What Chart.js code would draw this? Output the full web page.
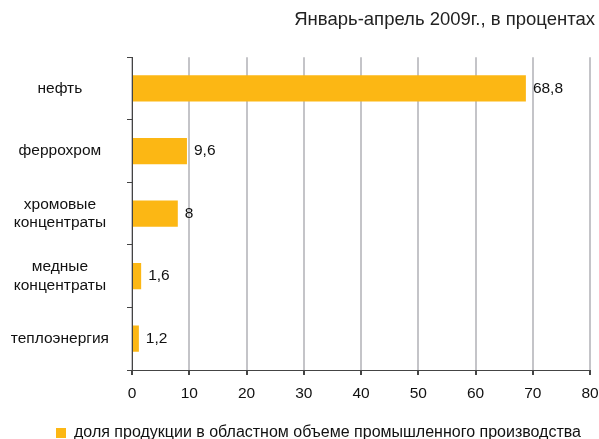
<!DOCTYPE html>
<html>
<head>
<meta charset="utf-8">
<script src="https://cdn.jsdelivr.net/npm/chart.js@4.4.1/dist/chart.umd.min.js"></script>
<style>
  html, body { margin: 0; padding: 0; background: #fff; }
  #wrap { width: 599px; height: 439px; }
</style>
</head>
<body>
<div id="wrap"><canvas id="share-chart" width="599" height="439"></canvas></div>
<script>
// данные
const categories = ['нефть', 'феррохром', ['хромовые', 'концентраты'], ['медные', 'концентраты'], 'теплоэнергия'];
const shares = [68.8, 9.6, 8, 1.6, 1.2];
const xTicks = [0, 10, 20, 30, 40, 50, 60, 70, 80];
const seriesName = 'доля продукции в областном объеме промышленного производства';
const titleText = 'Январь-апрель 2009г., в процентах';

const barColor = '#FCB714';
const font = 'Liberation Sans, Arial, sans-serif';

// value labels to the right of the bars
const valueLabels = {
    id: 'valueLabels',
    afterDatasetsDraw(chart) {
        const c = chart.ctx;
        const meta = chart.getDatasetMeta(0);
        c.save();
        c.font = '15.5px ' + font;
        c.fillStyle = '#111';
        c.textBaseline = 'middle';
        c.textAlign = 'left';
        meta.data.forEach((bar, i) => {
            c.fillText(String(shares[i]).replace('.', ','), bar.x + 7, bar.y);
        });
        c.restore();
    }
};

// legend sits a bit right of centre in the original
const legendShift = {
    id: 'legendShift',
    afterLayout(chart) {
        chart.legend.left += 21;
        chart.legend.right += 21;
    }
};

const ctx = document.getElementById('share-chart').getContext('2d');
const shareChart = new Chart(ctx, {
    type: 'bar',
    data: {
        labels: categories,
        datasets: [{
            label: seriesName,
            data: shares,
            backgroundColor: barColor,
            barPercentage: 0.42,
            categoryPercentage: 1
        }]
    },
    options: {
        indexAxis: 'y',
        responsive: false,
        animation: false,
        layout: { padding: { left: 0, right: 4, top: 0, bottom: -12 } },
        plugins: {
            title: {
                display: true,
                text: titleText,
                align: 'end',
                color: '#222',
                font: { family: font, size: 18.5, weight: 'normal' },
                padding: { top: 9, bottom: 26 }
            },
            legend: {
                position: 'bottom',
                align: 'center',
                labels: {
                    color: '#111',
                    font: { family: font, size: 16 },
                    boxWidth: 10,
                    boxHeight: 10,
                    padding: 8
                }
            },
            tooltip: { enabled: false }
        },
        scales: {
            x: {
                min: 0,
                max: 80,
                afterBuildTicks: axis => { axis.ticks = xTicks.map(v => ({ value: v })); },
                grid: {
                    color: '#c4c4c8',
                    lineWidth: 2,
                    tickColor: '#444',
                    tickLength: 5
                },
                border: { color: '#444', width: 1 },
                afterFit: axis => {
                    axis.height = 47;
                    axis.paddingRight = 9;
                },
                ticks: {
                    color: '#111',
                    font: { family: font, size: 15.5 },
                    padding: 9,
                    maxRotation: 0
                }
            },
            y: {
                grid: {
                    drawOnChartArea: false,
                    tickColor: '#444',
                    tickLength: 5,
                    offset: true
                },
                border: { color: '#444', width: 1 },
                afterFit: axis => { axis.width = 132; },
                ticks: {
                    color: '#111',
                    font: { family: font, size: 15.5 },
                    crossAlign: 'center',
                    padding: 18
                }
            }
        }
    },
    plugins: [valueLabels, legendShift]
});
</script>
</body>
</html>
